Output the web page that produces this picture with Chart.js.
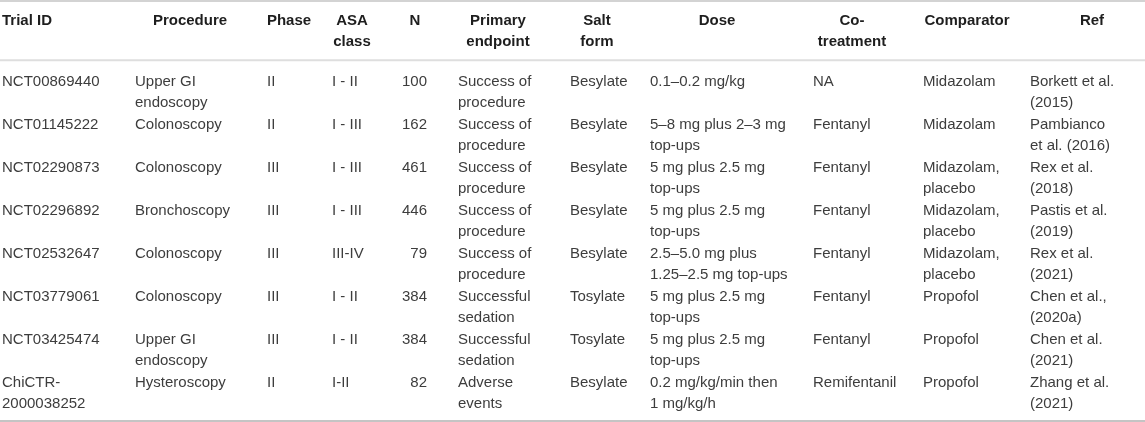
<!DOCTYPE html>
<html>
<head>
<meta charset="utf-8">
<script src="https://cdn.jsdelivr.net/npm/chart.js@4.4.1/dist/chart.umd.min.js"></script>
<style>
  html, body { margin: 0; padding: 0; background: #fff; }
  #wrap { width: 1145px; height: 422px; }
</style>
</head>
<body>
<div id="wrap"><canvas id="myChart" width="1145" height="422"></canvas></div>
<script>
// Table contents, one array per column
const headers = ['Trial ID', 'Procedure', 'Phase', 'ASA\nclass', 'N', 'Primary\nendpoint',
    'Salt\nform', 'Dose', 'Co-\ntreatment', 'Comparator', 'Ref'];

const trialIds = ['NCT00869440', 'NCT01145222', 'NCT02290873', 'NCT02296892',
    'NCT02532647', 'NCT03779061', 'NCT03425474', 'ChiCTR-\n2000038252'];
const procedures = ['Upper GI\nendoscopy', 'Colonoscopy', 'Colonoscopy', 'Bronchoscopy',
    'Colonoscopy', 'Colonoscopy', 'Upper GI\nendoscopy', 'Hysteroscopy'];
const phases = ['II', 'II', 'III', 'III', 'III', 'III', 'III', 'II'];
const asaClasses = ['I - II', 'I - III', 'I - III', 'I - III', 'III-IV', 'I - II', 'I - II', 'I-II'];
const sampleSizes = [100, 162, 461, 446, 79, 384, 384, 82];
const endpoints = ['Success of\nprocedure', 'Success of\nprocedure', 'Success of\nprocedure',
    'Success of\nprocedure', 'Success of\nprocedure', 'Successful\nsedation',
    'Successful\nsedation', 'Adverse\nevents'];
const saltForms = ['Besylate', 'Besylate', 'Besylate', 'Besylate', 'Besylate',
    'Tosylate', 'Tosylate', 'Besylate'];
const doses = ['0.1–0.2 mg/kg', '5–8 mg plus 2–3 mg\ntop-ups', '5 mg plus 2.5 mg\ntop-ups',
    '5 mg plus 2.5 mg\ntop-ups', '2.5–5.0 mg plus\n1.25–2.5 mg top-ups',
    '5 mg plus 2.5 mg\ntop-ups', '5 mg plus 2.5 mg\ntop-ups',
    '0.2 mg/kg/min then\n1 mg/kg/h'];
const coTreatments = ['NA', 'Fentanyl', 'Fentanyl', 'Fentanyl', 'Fentanyl', 'Fentanyl',
    'Fentanyl', 'Remifentanil'];
const comparators = ['Midazolam', 'Midazolam', 'Midazolam,\nplacebo', 'Midazolam,\nplacebo',
    'Midazolam,\nplacebo', 'Propofol', 'Propofol', 'Propofol'];
const refs = ['Borkett et al.\n(2015)', 'Pambianco\net al. (2016)', 'Rex et al.\n(2018)',
    'Pastis et al.\n(2019)', 'Rex et al.\n(2021)', 'Chen et al.,\n(2020a)',
    'Chen et al.\n(2021)', 'Zhang et al.\n(2021)'];

const columns = [trialIds, procedures, phases, asaClasses, sampleSizes, endpoints,
    saltForms, doses, coTreatments, comparators, refs];

// Layout: x anchors of each column (cell text and header), in x-scale units
const cellX = [2, 135, 267, 332, 427, 458, 570, 650, 813, 923, 1030];
const cellAlign = ['left', 'left', 'left', 'left', 'right', 'left', 'left', 'left', 'left', 'left', 'left'];
const headX = [2, 190, 289, 352, 415, 498, 597, 717, 852, 967, 1092];
const headAlign = ['left', 'center', 'center', 'center', 'center', 'center', 'center', 'center', 'center', 'center', 'center'];

const headerRow = -1.42;   // header baseline, in row units
const lineStep = 0.5;      // second line of a cell, in row units
const rules = [
    { y: -1.975, color: '#c4c4c4', width: 1.5 },
    { y: -0.6, color: '#dedede', width: 2 },
    { y: 7.79, color: '#c4c4c4', width: 2 },
];

const tablePlugin = {
    id: 'tablePlugin',
    afterDraw(chart) {
        const { ctx, scales: { x, y } } = chart;
        ctx.save();

        // horizontal rules
        rules.forEach(r => {
            const py = y.getPixelForValue(r.y);
            ctx.strokeStyle = r.color;
            ctx.lineWidth = r.width;
            ctx.beginPath();
            ctx.moveTo(x.getPixelForValue(x.min), py);
            ctx.lineTo(x.getPixelForValue(x.max), py);
            ctx.stroke();
        });

        ctx.textBaseline = 'alphabetic';

        // header
        ctx.font = 'bold 15px "Liberation Sans", Arial, sans-serif';
        ctx.fillStyle = '#1e1e1e';
        headers.forEach((h, c) => {
            ctx.textAlign = headAlign[c];
            String(h).split('\n').forEach((line, k) => {
                ctx.fillText(line, x.getPixelForValue(headX[c]), y.getPixelForValue(headerRow + k * lineStep));
            });
        });

        // body cells
        ctx.font = '15px "Liberation Sans", Arial, sans-serif';
        ctx.fillStyle = '#3d3d3d';
        columns.forEach((col, c) => {
            ctx.textAlign = cellAlign[c];
            col.forEach((val, r) => {
                String(val).split('\n').forEach((line, k) => {
                    ctx.fillText(line, x.getPixelForValue(cellX[c]), y.getPixelForValue(r + k * lineStep));
                });
            });
        });

        ctx.restore();
    }
};

const config = {
    type: 'scatter',
    data: { datasets: [] },
    options: {
        responsive: false,
        animation: false,
        devicePixelRatio: 1,
        layout: { padding: 0 },
        plugins: {
            legend: { display: false },
            tooltip: { enabled: false }
        },
        scales: {
            x: { type: 'linear', min: 0, max: 1145, display: false },
            y: { type: 'linear', min: -2, max: 7.814, reverse: true, display: false }
        }
    },
    plugins: [tablePlugin]
};

const myChart = new Chart(document.getElementById('myChart'), config);
</script>
</body>
</html>
